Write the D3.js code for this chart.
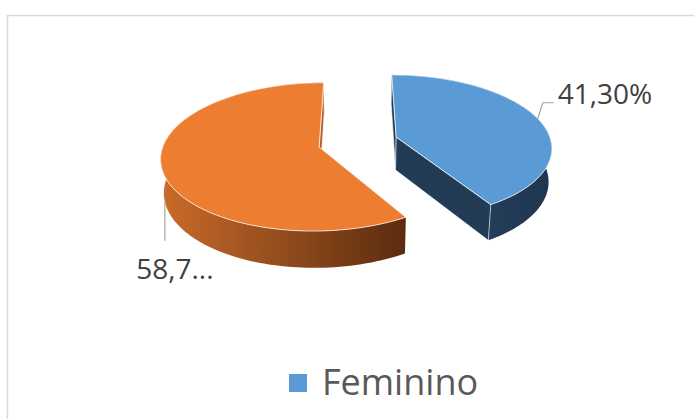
<!DOCTYPE html>
<html>
<head>
<meta charset="utf-8">
<script src="https://cdn.jsdelivr.net/npm/d3@7"></script>
<style>
  body { margin: 0; background: #fff; }
  text { font-family: "Open Sans", "Noto Sans", sans-serif; }
</style>
</head>
<body>
<svg id="pie" width="694" height="419"></svg>
<script>
// data
var categories = ["Feminino", "Masculino"];
var values = [41.3, 58.7];
var legendShown = ["Feminino"];          // the second entry is clipped off in the original
var truncated = [false, true];           // "58,7..." label is cut short

var topColors = ["#5B9BD5", "#ED7D31"];
var sideLight = ["#2A4765", "#CA6B2A"];
var sideDark = ["#1F3650", "#5A2C0E"];

var svg = d3.select("#pie"),
    width = +svg.attr("width"),
    height = +svg.attr("height");

// outer frame (runs off the right and bottom)
svg.append("rect")
    .attr("x", 7.5).attr("y", 15.5)
    .attr("width", 800).attr("height", 600)
    .attr("fill", "#fff")
    .attr("stroke", "#d9d9d9")
    .attr("stroke-width", 1.5);

// simple perspective camera for the tilted pie
var cx = 358, cy = 142,
    R = 155, depth = 38, explode = 40,
    tilt = 27.5 * Math.PI / 180,
    D = 1048,
    sinA = Math.sin(tilt), cosA = Math.cos(tilt);

function proj(u, v, h) {
    var yc = h * cosA - v * sinA,
        zc = h * sinA + v * cosA,
        s = D / (D - zc);
    return [cx + u * s, cy - yc * s];
}
var cam = {u: 0, v: D * cosA, h: D * sinA};

var pie = d3.pie().sort(null).value(function (d) { return d; });
var arcs = pie(values);

var locale = d3.formatLocale({decimal: ",", thousands: ".", grouping: [3], currency: ["", ""]});
var fmt = locale.format(".2f");

var line = d3.line();
var defs = svg.append("defs");

function rim(a, off, h, t) {
    return proj(off[0] + R * Math.sin(t), off[1] - R * Math.cos(t), h);
}

// draw the slice furthest back first
var order = arcs.map(function (a, i) { return i; });
order.sort(function (i, j) {
    var mi = (arcs[i].startAngle + arcs[i].endAngle) / 2,
        mj = (arcs[j].startAngle + arcs[j].endAngle) / 2;
    return Math.cos(mj) - Math.cos(mi);
});

var geo = [];
arcs.forEach(function (a, i) {
    var mid = (a.startAngle + a.endAngle) / 2;
    geo[i] = {mid: mid, off: [explode * Math.sin(mid), -explode * Math.cos(mid)]};
});

order.forEach(function (i) {
    var a = arcs[i], off = geo[i].off;
    var g = svg.append("g").attr("class", "slice");
    var n = 120, t, k;
    var topPts = [], botPts = [];
    for (k = 0; k <= n; k++) {
        t = a.startAngle + (a.endAngle - a.startAngle) * k / n;
        topPts.push(rim(a, off, 0, t));
        botPts.push(rim(a, off, -depth, t));
    }

    // outer side band, shaded left to right
    var xs = topPts.map(function (p) { return p[0]; });
    var gid = "side" + i;
    var grad = defs.append("linearGradient").attr("id", gid)
        .attr("gradientUnits", "userSpaceOnUse")
        .attr("x1", d3.min(xs)).attr("x2", d3.max(xs))
        .attr("y1", 0).attr("y2", 0);
    grad.append("stop").attr("offset", 0).attr("stop-color", sideLight[i]);
    grad.append("stop").attr("offset", 1).attr("stop-color", sideDark[i]);

    g.append("path")
        .attr("d", line(topPts.concat(botPts.slice().reverse())) + "Z")
        .attr("fill", "url(#" + gid + ")");

    // radial walls, only the ones facing the camera
    [[a.startAngle, -1], [a.endAngle, 1]].forEach(function (w) {
        var th = w[0],
            nu = w[1] * Math.cos(th), nv = w[1] * Math.sin(th),
            pu = off[0] + R / 2 * Math.sin(th), pv = off[1] - R / 2 * Math.cos(th);
        if (nu * (cam.u - pu) + nv * (cam.v - pv) <= 0) return;
        var pts = [
            proj(off[0], off[1], 0),
            rim(a, off, 0, th),
            rim(a, off, -depth, th),
            proj(off[0], off[1], -depth)
        ];
        g.append("path")
            .attr("d", line(pts) + "Z")
            .attr("fill", i === 0 ? "#233C56" : "#B85E22")
            .attr("stroke", "#fff").attr("stroke-opacity", 0.7)
            .attr("stroke-width", 0.8);
    });

    // top face
    g.append("path")
        .attr("d", line([proj(off[0], off[1], 0)].concat(topPts)) + "Z")
        .attr("fill", topColors[i])
        .attr("stroke", "#fff").attr("stroke-opacity", 0.8)
        .attr("stroke-width", 0.9);
});

// data labels
arcs.forEach(function (a, i) {
    var off = geo[i].off, mid = geo[i].mid;
    var txt = fmt(values[i]) + "%";
    if (truncated[i]) txt = txt.slice(0, 4) + "...";
    var lab = svg.append("g").attr("class", "label");
    if (Math.sin(mid) > 0) {
        var p = rim(a, off, 0, mid);
        lab.append("path")
            .attr("d", line([p, [p[0] + 5, p[1] - 16], [p[0] + 16, p[1] - 16]]))
            .attr("fill", "none").attr("stroke", "#a6a6a6").attr("stroke-width", 1.2);
        lab.append("text")
            .attr("x", p[0] + 20).attr("y", p[1] - 15)
            .attr("font-size", 28).attr("fill", "#404040")
            .text(txt);
    } else {
        var q = rim(a, off, -depth, mid);
        lab.append("path")
            .attr("d", line([q, [q[0], q[1] + 39]]))
            .attr("fill", "none").attr("stroke", "#a6a6a6").attr("stroke-width", 1.2);
        lab.append("text")
            .attr("x", q[0] + 10).attr("y", q[1] + 77)
            .attr("text-anchor", "middle")
            .attr("font-size", 28).attr("fill", "#404040")
            .text(txt);
    }
});

// legend
var legend = svg.append("g").attr("class", "legend")
    .attr("transform", "translate(289,374)");
legendShown.forEach(function (c, i) {
    var idx = categories.indexOf(c);
    legend.append("rect")
        .attr("x", 0).attr("y", 0)
        .attr("width", 18).attr("height", 18)
        .attr("fill", topColors[idx]);
    legend.append("text")
        .attr("x", 33).attr("y", 21)
        .attr("font-size", 36).attr("fill", "#595959")
        .text(c);
});
</script>
</body>
</html>
